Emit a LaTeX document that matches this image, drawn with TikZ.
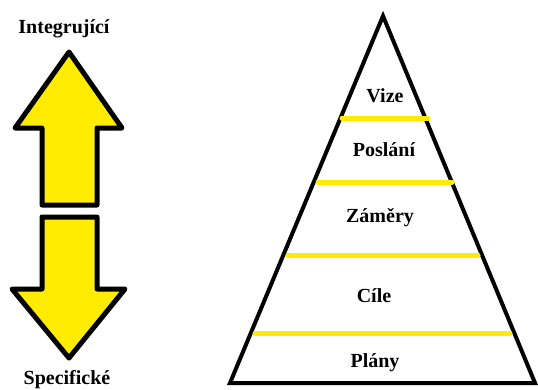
\documentclass[tikz,border=0pt]{standalone}
\usepackage{fontspec}
\setmainfont{Liberation Serif}
\usepackage{xcolor}
\usepackage{tikz}
\usetikzlibrary{positioning}
\definecolor{arrowyellow}{RGB}{255,236,0}
\definecolor{bandyellow}{RGB}{255,235,0}

\begin{document}
\begin{tikzpicture}[x=1pt, y=-1pt,
    label/.style={font=\fontsize{20}{24}\selectfont\bfseries, inner sep=0pt, anchor=base},
    blockarrow/.style={draw=black, fill=arrowyellow, line width=5pt, line join=round},
    band/.style={draw=bandyellow, line width=5pt, line cap=round}]
\useasboundingbox (0,0) rectangle (538,389);

% up and down arrows
\draw[blockarrow] (69,52) -- (122,128) -- (97,128) -- (97,205) -- (42,205) -- (42,128) -- (15,128) -- cycle;
\draw[blockarrow] (42,217) -- (97,217) -- (97,289) -- (125,289) -- (69,358) -- (12,289) -- (42,289) -- cycle;
\node[label] (integ) at (64,33) {Integrující};
\node[label] (spec) at (67,384) {Specifické};

% pyramid
\draw[line width=4pt, line join=miter] (383,16) -- (535,383) -- (230,383) -- cycle;
\coordinate (b1l) at (342,118); \coordinate (b1r) at (428,118);
\coordinate (b2l) at (318,182); \coordinate (b2r) at (452,182);
\coordinate (b3l) at (288,255); \coordinate (b3r) at (478,255);
\coordinate (b4l) at (255,333); \coordinate (b4r) at (510,333);
\draw[band] (b1l) -- (b1r);
\draw[band] (b2l) -- (b2r);
\draw[band] (b3l) -- (b3r);
\draw[band] (b4l) -- (b4r);

\node[label] (vize) at (385,102) {Vize};
\node[label] (poslani) at (384,156) {Poslání};
\node[label] (zamery) at (380,222) {Záměry};
\node[label] (cile) at (374,302) {Cíle};
\node[label] (plany) at (375,367) {Plány};
\end{tikzpicture}
\end{document}
